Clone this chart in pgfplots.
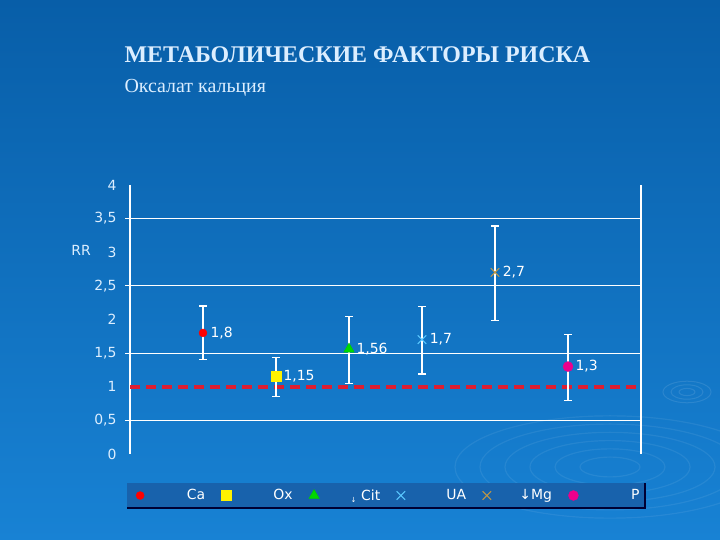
\documentclass[border=0pt]{standalone}
\usepackage{pgfplots}
\pgfplotsset{compat=1.18}
\usepackage{fontspec}
\setmainfont{Liberation Serif}
\newfontfamily\lab{DejaVu Sans}

\definecolor{bgtop}{RGB}{8,94,168}
\definecolor{bgbot}{RGB}{24,130,212}
\definecolor{legbg}{RGB}{24,98,172}
\definecolor{titlec}{RGB}{220,238,255}
\definecolor{refred}{RGB}{220,30,50}
\definecolor{uacol}{RGB}{90,200,255}
\definecolor{mgcol}{RGB}{190,150,70}

\begin{document}
\begin{tikzpicture}[x=1bp,y=1bp]
% slide background
\shade[top color=bgtop, bottom color=bgbot] (0,0) rectangle (720,540);
\useasboundingbox (0,0) rectangle (720,540);
% ripples
\foreach \r in {30,55,80,105,130,155}
  \draw[white, opacity=0.07, line width=1.2bp] (610,73) ellipse ({\r} and {0.33*\r});
\foreach \r in {8,16,24}
  \draw[white, opacity=0.10, line width=1bp] (687,148) ellipse ({\r} and {0.45*\r});

% titles
\node[anchor=west, text=titlec, font=\bfseries\fontsize{24}{24}\selectfont] at (121,485) {МЕТАБОЛИЧЕСКИЕ ФАКТОРЫ РИСКА};
\node[anchor=west, text=titlec, font=\fontsize{20}{20}\selectfont] at (121,452) {Оксалат кальция};
\node[text=titlec, font=\lab\fontsize{14}{14}\selectfont] at (81,290) {RR};

% legend frame
\fill[legbg] (127,32) rectangle (645,57);
\draw[black!80!blue, line width=1.5bp] (127,32) -- (645,32) -- (645,57);

\begin{axis}[
  at={(130bp,86bp)}, anchor=south west,
  scale only axis, width=511bp, height=269bp,
  xmin=0, xmax=7, ymin=0, ymax=4,
  clip=false,
  axis line style={draw=none},
  xtick=\empty,
  ytick={0,0.5,...,4},
  ytick pos=left,
  major tick length=0pt,
  /pgf/number format/.cd, use comma, assume math mode=true,
  /pgfplots/.cd,
  yticklabel style={text=titlec, font=\lab\fontsize{14}{14}\selectfont, xshift=-10bp},
  extra y ticks={0.5,1.5,2.5,3.5},
  extra y tick labels={},
  extra y tick style={grid=major, major grid style={white, line width=1bp},
    tick style={white, line width=1bp}, major tick length=5bp, tick align=outside},
  error bars/y dir=both, error bars/y explicit,
  error bars/error bar style={white, line width=1.3bp},
  error bars/error mark options={white, line width=1.2bp, mark size=4bp, rotate=90},
  nodes near coords,
  every node near coord/.append style={anchor=west, xshift=4bp, text=white, font=\lab\fontsize{14}{14}\selectfont},
  legend columns=6,
  legend style={at={(-0.006,-0.1543)}, anchor=west, xshift=6bp, draw=none, fill=none,
    font=\lab\fontsize{14}{14}\selectfont, text=white,
    /tikz/every even column/.append style={column sep=14.4bp, text width=59bp, align=right}},
]
\draw[white, line width=1.2bp] (rel axis cs:0,0) -- (rel axis cs:0,1);
\draw[white, line width=1.2bp] (rel axis cs:1,0) -- (rel axis cs:1,1);
\addplot[refred, line width=4bp, dash pattern=on 10bp off 6bp, forget plot, nodes near coords={}] coordinates {(0,1) (7,1)};

\addplot[only marks, mark=*, mark size=4bp, mark options={draw=red, fill=red}]
  coordinates {(1,1.8) += (0,0.4) -= (0,0.4)};
\addplot[only marks, mark=square*, mark size=5bp, mark options={draw=yellow, fill=yellow}]
  coordinates {(2,1.15) += (0,0.29) -= (0,0.3)};
\addplot[only marks, mark=triangle*, mark size=6bp, mark options={draw=green!80!black, fill=green!85!black}]
  coordinates {(3,1.56) += (0,0.49) -= (0,0.51)};
\addplot[only marks, mark=x, mark size=6bp, mark options={draw=uacol, line width=1.1bp}]
  coordinates {(4,1.7) += (0,0.49) -= (0,0.51)};
\addplot[only marks, mark=x, mark size=6bp, mark options={draw=mgcol, line width=1.1bp}]
  coordinates {(5,2.7) += (0,0.69) -= (0,0.72)};
\addplot[only marks, mark=*, mark size=5bp, mark options={draw=magenta, fill=magenta}]
  coordinates {(6,1.3) += (0,0.48) -= (0,0.51)};
\legend{Ca, Ox, {\raisebox{-2bp}{\fontsize{7}{7}\selectfont ↓} Cit}, UA, ↓Mg, P}
\end{axis}
\end{tikzpicture}
\end{document}
